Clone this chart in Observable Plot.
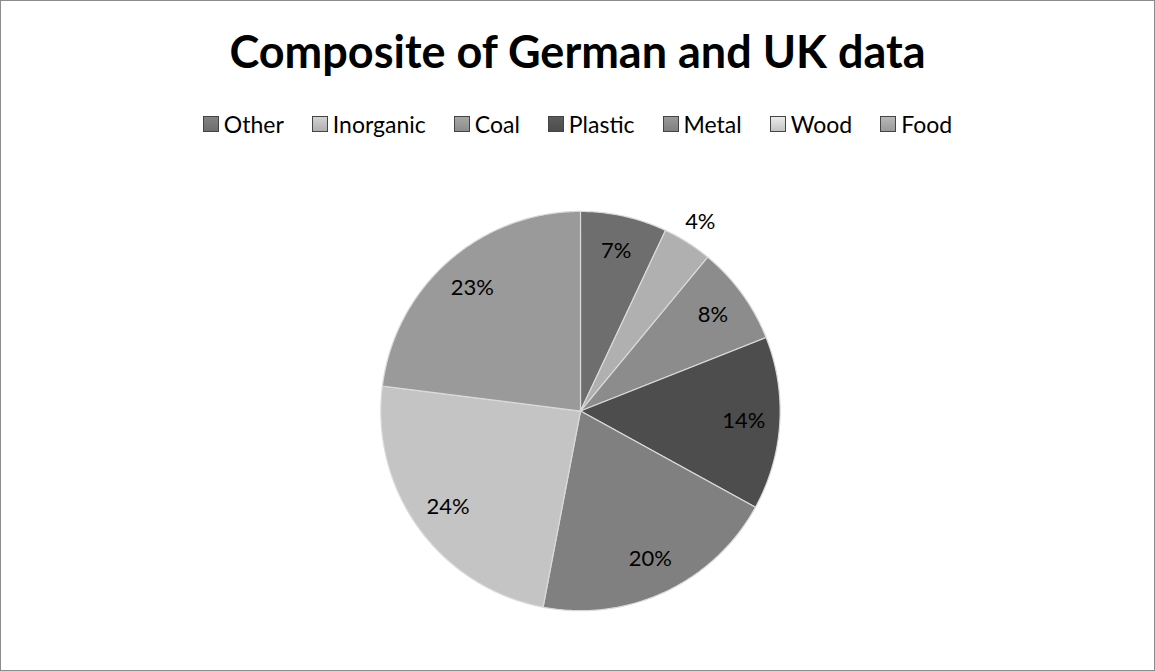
<!DOCTYPE html>
<html>
<head>
<meta charset="utf-8">
<script src="https://cdn.jsdelivr.net/npm/d3@7"></script>
<script src="https://cdn.jsdelivr.net/npm/@observablehq/plot@0.6"></script>
<style>
  html, body { margin: 0; padding: 0; background: #fff; }
  #frame { position: relative; width: 1153px; height: 669px; border: 1px solid #8c8c8c; overflow: hidden; font-family: Lato, "Open Sans", sans-serif; }
  #title { position: absolute; left: 0; right: 0; top: 23px; text-align: center; font-weight: bold; font-size: 45px; color: #000; }
  #legend { position: absolute; left: 0; right: 0; top: 109px; display: flex; justify-content: center; gap: 28px; font-size: 23px; color: #000; white-space: nowrap; }
  .item { display: flex; align-items: center; }
  .sw { display: inline-block; width: 16px; height: 16px; margin-right: 5px; border: 1px solid #444; box-sizing: border-box; }
  #chart { position: absolute; left: 0; top: 160px; }
</style>
</head>
<body>
<div id="frame">
  <div id="title">Composite of German and UK data</div>
  <div id="legend"></div>
  <div id="chart"></div>
</div>
<script>
const categories = ["Other", "Inorganic", "Coal", "Plastic", "Metal", "Wood", "Food"];
const shares = [7, 4, 8, 14, 20, 24, 23];
const colors = ["#6e6e6e", "#b0b0b0", "#8c8c8c", "#4d4d4d", "#808080", "#c4c4c4", "#9a9a9a"];

const data = categories.map((name, i) => ({name, value: shares[i], color: colors[i]}));
const arcs = d3.pie().sort(null).value(d => d.value)(data);

// slice outlines in unit-circle coordinates (angle 0 = 12 o'clock, clockwise)
const pts = [];
for (const a of arcs) {
  const n = Math.max(2, Math.ceil((a.endAngle - a.startAngle) / (Math.PI / 360)));
  pts.push({name: a.data.name, x: 0, y: 0});
  for (let k = 0; k <= n; k++) {
    const t = a.startAngle + (a.endAngle - a.startAngle) * k / n;
    pts.push({name: a.data.name, x: Math.sin(t), y: Math.cos(t)});
  }
  pts.push({name: a.data.name, x: 0, y: 0});
}
const labels = arcs.map(a => {
  const m = (a.startAngle + a.endAngle) / 2;
  const r = a.data.value < 5 ? 1.12 : 0.82;
  return {name: a.data.name, text: a.data.value + "%", x: r * Math.sin(m), y: r * Math.cos(m)};
});

// legend
const leg = document.getElementById("legend");
data.forEach(d => {
  const s = document.createElement("span");
  s.className = "item";
  s.innerHTML = `<span class="sw" style="background:linear-gradient(${d3.color(d.color).brighter(0.5)}, ${d.color})"></span>${d.name}`;
  leg.appendChild(s);
});

const chart = Plot.plot({
  width: 1155,
  height: 500,
  margin: 0,
  x: {domain: [-1, 1], range: [380, 780], axis: null},
  y: {domain: [-1, 1], range: [450, 50], axis: null},
  color: {domain: categories, range: colors},
  marks: [
    Plot.line(pts, {x: "x", y: "y", z: "name", fill: "name", stroke: "#dadada", strokeWidth: 1.2, strokeLinejoin: "round", curve: "linear"}),
    Plot.text(labels, {x: "x", y: "y", text: "text", fontSize: 22, fill: "#000", fontFamily: "Lato, 'Open Sans', sans-serif"})
  ]
});
document.getElementById("chart").appendChild(chart);
</script>
</body>
</html>
